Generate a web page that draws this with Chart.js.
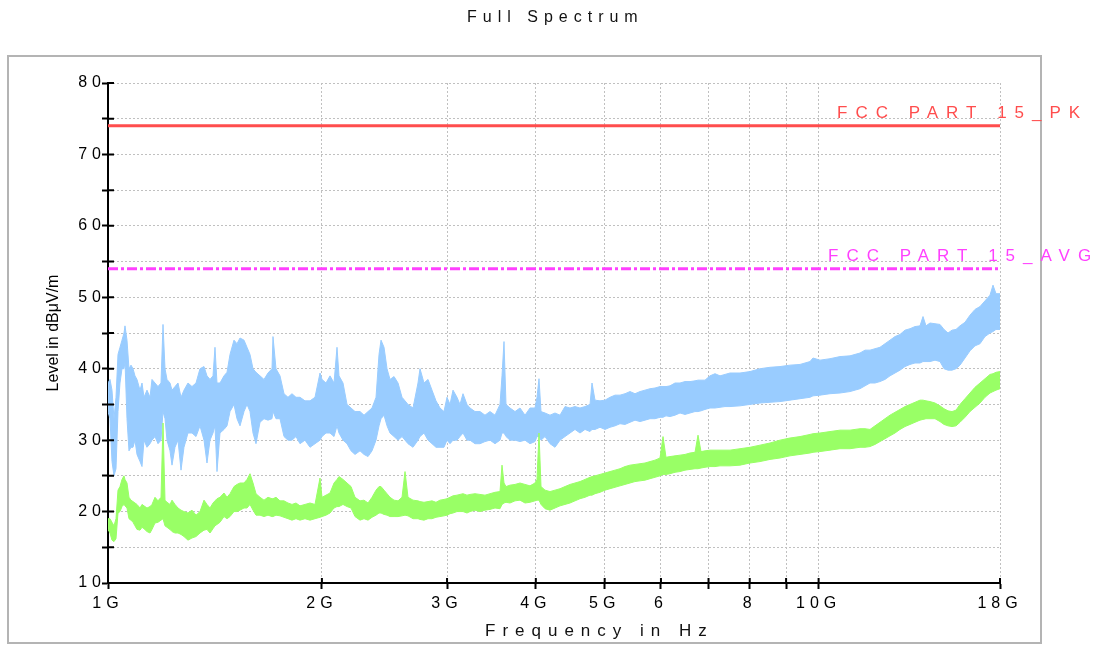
<!DOCTYPE html>
<html lang="en">
<head>
  <meta charset="UTF-8">
  <title>Full Spectrum</title>
  <script src="https://cdn.jsdelivr.net/npm/chart.js"></script>
  <style>
    body { margin: 0; background: #fff; }
    canvas { display: block; }
  </style>
</head>
<body>
  <canvas id="spectrumChart" width="1096" height="646"></canvas>

  <script>
    const FONT = '"Liberation Sans", Arial, sans-serif';

    // Frequency points in GHz (log axis, 1G..18G)
    const freqGHz = [
      1.000, 1.0065, 1.0130, 1.0196, 1.0263, 1.0329, 1.0396, 1.0464, 1.0532, 1.0566,
      1.0635, 1.0704, 1.0774, 1.0844, 1.0914, 1.0985, 1.1093, 1.1165, 1.1237, 1.1347,
      1.1458, 1.1532, 1.1645, 1.1759, 1.1874, 1.1951, 1.2029, 1.2107, 1.2225, 1.2305,
      1.2425, 1.2546, 1.2669, 1.2792, 1.2959, 1.3128, 1.3300, 1.3473, 1.3649, 1.3782,
      1.3917, 1.4053, 1.4144, 1.4236, 1.4375, 1.4563, 1.4705, 1.4849, 1.5042, 1.5189,
      1.5338, 1.5538, 1.5690, 1.5843, 1.5998, 1.6154, 1.6365, 1.6578, 1.6794, 1.7013,
      1.7068, 1.7235, 1.7460, 1.7688, 1.7918, 1.8152, 1.8389, 1.8629, 1.8933, 1.9243,
      1.9557, 1.9877, 2.0006, 2.0267, 2.0532, 2.0800, 2.1003, 2.1139, 2.1415, 2.1695,
      2.1978, 2.2265, 2.2629, 2.2924, 2.3223, 2.3526, 2.3833, 2.4066, 2.4222, 2.4459,
      2.4698, 2.4939, 2.5265, 2.5594, 2.5928, 2.6181, 2.6435, 2.6867, 2.7305, 2.7483,
      2.7842, 2.8205, 2.8573, 2.8945, 2.9323, 2.9705, 2.9996, 3.0289, 3.0585, 3.0984,
      3.1286, 3.1592, 3.2004, 3.2317, 3.2845, 3.3381, 3.3926, 3.4480, 3.5044, 3.5616,
      3.5848, 3.6081, 3.6316, 3.6790, 3.7391, 3.8001, 3.8622, 3.9253, 3.9894, 4.0154,
      4.0415, 4.0678, 4.1209, 4.1882, 4.2566, 4.3261, 4.3968, 4.4686, 4.5416, 4.6157,
      4.6911, 4.7677, 4.7987, 4.8456, 4.9247, 5.0052, 5.0869, 5.1700, 5.2544, 5.3402,
      5.4275, 5.5161, 5.6062, 5.6978, 5.7909, 5.8855, 5.9816, 6.0400, 6.0990, 6.1786,
      6.2795, 6.3821, 6.4863, 6.5922, 6.6999, 6.7654, 6.8314, 6.9206, 7.0336, 7.1485,
      7.2652, 7.3839, 7.5045, 7.7516, 8.0069, 8.2706, 8.5430, 8.8244, 9.1150, 9.4151,
      9.7252, 9.8202, 10.0455, 10.3763, 10.7181, 11.0710, 11.4357, 11.6225, 11.8123, 12.0052,
      12.2013, 12.4006, 12.6031, 12.8090, 13.0182, 13.2308, 13.4469, 13.6665, 13.8897, 14.0254,
      14.1624, 14.3472, 14.5815, 14.8196, 15.0130, 15.2089, 15.4074, 15.6084, 15.8120, 16.0703,
      16.3328, 16.5995, 16.8706, 17.1462, 17.4262, 17.5965, 17.7684, 18.0
    ];

    // Peak trace (blue): upper and lower edge of the noise band, dBuV/m
    const peakHi = [
      38, 38.5, 37, 33, 36, 42, 43, 44, 45, 46,
      44, 40, 40.5, 40, 39, 38.5, 37, 38, 36, 37,
      36, 38.5, 38, 37.5, 38, 46.2, 40, 38.5, 38, 37,
      37.5, 38, 36, 37, 38, 37.5, 38, 40, 40.3, 39,
      38.5, 39, 43, 38, 38, 39, 39.5, 42, 44, 43.5,
      44.3, 44, 43, 42, 40, 39.5, 39, 38.5, 39.4, 40,
      44.5, 40, 39, 36.5, 36, 36.5, 36, 36, 35.5, 35.5,
      36, 39.4, 38.5, 38, 39, 38, 43, 39, 38, 35,
      34.5, 34, 34, 33.5, 34, 34.5, 36, 42, 44, 43,
      40, 38.5, 38.9, 38, 36, 35.5, 35, 34.5, 38, 40,
      38, 38.5, 37, 35.5, 34.5, 34, 36, 35, 37, 36,
      35, 36.5, 35, 34.5, 34, 34, 33.5, 34, 33.5, 35,
      39, 43.8, 35, 34.5, 34, 34.5, 33.5, 34.5, 34.5, 36,
      38.6, 34, 33.8, 33.5, 33.8, 33.5, 34.7, 34.5, 34.7, 34.5,
      34.7, 35, 38, 35.6, 35.5, 35.6, 36, 36.3, 36.3, 36.5,
      36.8, 36.5, 36.8, 37, 37.2, 37.3, 37.5, 37.5, 37.5, 37.6,
      38, 38, 38.2, 38.2, 38.3, 38.4, 38.4, 38.4, 39, 39.3,
      39, 39.2, 39.4, 39.4, 39.6, 40, 40.2, 40.3, 40.5, 40.6,
      41, 41.5, 41.2, 41.4, 41.7, 41.8, 42.2, 42.6, 42.6, 42.8,
      43, 43.5, 44, 44.5, 44.8, 45.4, 45.6, 45.9, 46, 47.3,
      46, 46.4, 46.3, 46.2, 45.5, 45, 45.4, 45.5, 46, 46.5,
      47.5, 48.3, 48.7, 49.5, 50.3, 51.7, 50.5, 50.5
    ];
    const peakLo = [
      34, 33, 27, 25, 26, 34, 38, 40, 40, 41,
      33, 28.5, 29, 29, 30, 28, 27, 26.3, 30, 29,
      29.5, 30, 30.5, 29.5, 30, 34, 33, 30, 28.5, 26.5,
      29, 30, 25.8, 29, 31, 31, 30.5, 32, 30, 26.8,
      30, 31, 32, 25.6, 31, 31.5, 32, 34, 35, 33,
      32, 34, 35, 34, 31, 29.5, 32.5, 33, 32.8, 33,
      34, 33, 33, 30.5, 30, 30, 30.5, 29.5, 30, 29,
      29.5, 30, 30.5, 31, 31, 30.5, 32, 31, 30, 29.5,
      28.5, 28, 28.5, 28, 27.7, 28.5, 30, 32, 33, 33.5,
      32, 31, 30.5, 30, 30.5, 30, 29.5, 29, 30, 30.5,
      31, 30, 29.5, 29, 29, 29, 30, 29.5, 30, 30,
      30.5, 31, 30, 30, 29.5, 29.5, 29.8, 30, 29.5, 30,
      31, 31, 30.5, 30, 30, 29.8, 30, 29.5, 29.8, 30.5,
      30.5, 30, 30.5, 29.5, 29, 30, 30.5, 31, 31.5, 31,
      31.5, 31.2, 31.5, 31.5, 31.8, 31.5, 31.8, 32, 32.3, 32.2,
      32.5, 32.8, 32.6, 32.8, 33, 33, 33.2, 33.2, 33.4, 33.3,
      33.5, 33.8, 33.6, 33.8, 34, 34, 34.1, 34.3, 34.5, 34.5,
      34.6, 34.7, 34.7, 34.8, 35, 35.2, 35.3, 35.4, 35.6, 35.8,
      36, 36.2, 36.3, 36.5, 36.6, 36.8, 37.2, 37.6, 38, 38,
      38.2, 38.5, 39, 39.4, 39.8, 40.3, 40.6, 40.8, 40.8, 41,
      41, 41, 41.2, 41, 40, 39.8, 39.8, 40, 40.5, 41.5,
      42.5, 43.2, 43.5, 44.5, 45, 45.2, 45.5, 45.5
    ];

    // Average trace (green): upper and lower edge of the noise band, dBuV/m
    const avgHi = [
      19, 19, 18.5, 18, 19, 23, 23.5, 24.5, 25, 24.5,
      24, 22, 21.6, 21.4, 21.2, 21, 20.5, 21, 20.8, 20.5,
      20.7, 21, 22, 21.5, 22, 32.4, 21.6, 21.3, 21, 21.6,
      21, 20.5, 20.2, 20, 19.8, 20.2, 19.5, 20, 21.6, 21,
      20.5, 21.2, 21.5, 21.8, 22, 22.6, 22, 22.5, 23.5, 23.8,
      24, 24, 24.5, 25.3, 24, 22.5, 22, 21.6, 22, 21.8,
      21.8, 22, 21.5, 21.5, 21.2, 21, 21.2, 20.8, 21, 21.2,
      21, 24.7, 22, 22.3, 22.6, 24, 24.5, 24.9, 24.5, 24,
      23.5, 22, 21.5, 21.6, 21.2, 22, 23, 23.5, 23.5, 23,
      22.5, 22, 21.6, 21.5, 22, 25.6, 22, 21.6, 21.5, 21.4,
      21.3, 21.4, 21.5, 21.3, 21.6, 21.7, 21.8, 22, 22.2, 22.3,
      22.4, 22.5, 22.3, 22.4, 22.5, 22.4, 22.3, 22.5, 22.7, 22.8,
      26.5, 24, 23.5, 23.7, 23.8, 24, 23.8, 23.6, 24, 24.5,
      31, 23.5, 23, 22.8, 23, 23.2, 23.5, 23.8, 24, 24.2,
      24.5, 24.8, 24.9, 25, 25.2, 25.4, 25.6, 25.8, 26, 26.3,
      26.5, 26.6, 26.7, 26.8, 27, 27.2, 27.5, 30.5, 27.6, 27.7,
      27.8, 27.9, 28, 28.2, 28.3, 30.7, 28.4, 28.5, 28.6, 28.6,
      28.6, 28.6, 28.6, 28.8, 29, 29.3, 29.6, 30, 30.3, 30.5,
      30.8, 30.9, 31, 31.2, 31.4, 31.4, 31.6, 31.6, 31.5, 32,
      32.5, 33, 33.5, 33.9, 34.3, 34.7, 35, 35.3, 35.6, 35.6,
      35.5, 35.4, 35.2, 34.8, 34.4, 34.1, 34, 34.2, 35, 35.8,
      36.6, 37.4, 38, 38.6, 39.2, 39.3, 39.5, 39.6
    ];
    const avgLo = [
      17.5, 17, 16, 15.8, 16.2, 19.8, 20, 20.7, 21, 20.8,
      20.5, 19, 18.8, 18.5, 18, 17.5, 17.4, 17.8, 17.6, 17.2,
      17, 17.5, 18.4, 18.5, 18.8, 19, 18, 17.8, 17.5, 17.2,
      17, 17, 16.8, 16.5, 16, 16.3, 16.5, 17, 17.4, 17.5,
      17, 17.6, 18, 18.2, 18.5, 19.3, 19, 19.3, 20, 20,
      20.2, 20.5, 20.5, 21, 20.2, 19.5, 19.5, 19.3, 19.5, 19.3,
      19.3, 19.5, 19.4, 19.2, 19, 18.8, 19, 18.8, 19, 18.8,
      19, 19.2, 19.3, 19.5, 19.8, 20.5, 20.7, 20.7, 21, 20.7,
      20.5, 19.3, 18.8, 19, 18.8, 19.2, 19.5, 19.8, 19.8, 19.6,
      19.5, 19.3, 19.3, 19.3, 19.4, 19.5, 19.4, 19, 19, 18.9,
      18.8, 19, 19, 19.2, 19.3, 19.4, 19.5, 19.7, 19.8, 20,
      20, 20, 19.8, 20, 20.2, 20, 20.2, 20.3, 20.5, 20.4,
      21, 21.2, 21.3, 21.2, 21.5, 21.6, 21.2, 21.3, 21.5, 21.6,
      21.6, 21, 20.4, 20.2, 20.5, 20.8, 21, 21.2, 21.5, 21.8,
      22, 22.3, 22.3, 22.5, 22.7, 23, 23.2, 23.4, 23.6, 23.8,
      24, 24.2, 24.3, 24.4, 24.6, 24.8, 25, 25.2, 25.2, 25.3,
      25.5, 25.6, 25.8, 25.9, 26, 26, 26.1, 26.2, 26.3, 26.3,
      26.4, 26.4, 26.4, 26.5, 26.8, 27, 27.3, 27.5, 27.8, 28,
      28.2, 28.3, 28.4, 28.6, 28.8, 28.8, 29, 29, 29.1, 29.4,
      29.8, 30.2, 30.6, 31, 31.5, 31.9, 32.2, 32.5, 32.8, 32.9,
      33, 33, 33, 32.6, 32.2, 32, 31.9, 32, 32.5, 33.2,
      34, 34.6, 35.2, 36, 36.6, 36.8, 37, 37.2
    ];

    // Limit lines
    const limitFreq = [1, 18];
    const pkLimit = [74, 74];
    const avgLimit = [54, 54];

    // Axis ticks
    const xTickValues = [1, 2, 3, 4, 5, 6, 7, 8, 9, 10, 18];
    const xTickLabels = ['1G', '2G', '3G', '4G', '5G', '6', '', '8', '', '10G', '18G'];
    const yTickValues = [10, 15, 20, 25, 30, 35, 40, 45, 50, 55, 60, 65, 70, 75, 80];

    const blue = 'rgb(153, 204, 255)';
    const green = 'rgb(153, 255, 102)';
    const red = 'rgb(255, 77, 77)';
    const magenta = 'rgb(255, 64, 255)';

    const toPoints = (xs, ys) => xs.map((x, i) => ({ x: x, y: ys[i] }));

    // wide letter spacing like the original plot software
    function spacedText(ctx, text, x, y, size, spacing, color) {
      ctx.save();
      ctx.font = size + 'px ' + FONT;
      ctx.letterSpacing = spacing + 'px';
      ctx.fillStyle = color;
      ctx.textAlign = 'left';
      ctx.textBaseline = 'middle';
      ctx.fillText(text, x, y);
      ctx.restore();
    }

    const decor = {
      id: 'decor',
      beforeDraw(chart) {
        const ctx = chart.ctx;
        // outer frame
        ctx.save();
        ctx.strokeStyle = '#b4b4b4';
        ctx.lineWidth = 2;
        ctx.strokeRect(8, 56, 1033, 587);
        ctx.restore();
        // spaced tick labels
        [chart.scales.x, chart.scales.y].forEach(s => {
          if (s._spaced) return;
          const drawLabels = s.drawLabels;
          s.drawLabels = function (area) {
            this.ctx.save();
            this.ctx.letterSpacing = '5px';
            drawLabels.call(this, area);
            this.ctx.restore();
          };
          s._spaced = true;
        });
      },
      afterDraw(chart) {
        const { ctx, scales: { x, y } } = chart;
        // inner half of the tick marks
        ctx.save();
        ctx.strokeStyle = '#000';
        ctx.lineWidth = 2;
        ctx.beginPath();
        y.ticks.forEach(t => {
          const py = y.getPixelForValue(t.value);
          ctx.moveTo(x.left, py);
          ctx.lineTo(x.left + 6, py);
        });
        x.ticks.forEach(t => {
          const px = x.getPixelForValue(t.value);
          ctx.moveTo(px, y.bottom);
          ctx.lineTo(px, y.bottom - 5);
        });
        ctx.stroke();
        ctx.restore();

        spacedText(ctx, 'Full Spectrum', 467, 18, 16, 6, '#111');
        spacedText(ctx, 'Frequency in Hz', 485, 631, 17, 7, '#111');
        spacedText(ctx, 'FCC PART 15_PK', 837, y.getPixelForValue(pkLimit[0]) - 13, 17, 8, red);
        spacedText(ctx, 'FCC PART 15_AVG', 828, y.getPixelForValue(avgLimit[0]) - 12, 17, 8, magenta);
      }
    };

    const ctx = document.getElementById('spectrumChart').getContext('2d');
    const chart = new Chart(ctx, {
      type: 'line',
      data: {
        datasets: [
          {
            label: 'FCC PART 15_PK',
            data: toPoints(limitFreq, pkLimit),
            borderColor: red,
            borderWidth: 3,
            pointRadius: 0,
            fill: false
          },
          {
            label: 'FCC PART 15_AVG',
            data: toPoints(limitFreq, avgLimit),
            borderColor: magenta,
            borderWidth: 3,
            borderDash: [10, 3, 3, 3],
            pointRadius: 0,
            fill: false
          },
          {
            label: 'Average max',
            data: toPoints(freqGHz, avgHi),
            borderColor: green,
            backgroundColor: green,
            borderWidth: 1,
            pointRadius: 0,
            fill: '+1'
          },
          {
            label: 'Average min',
            data: toPoints(freqGHz, avgLo),
            borderColor: green,
            borderWidth: 1,
            pointRadius: 0,
            fill: false
          },
          {
            label: 'Peak max',
            data: toPoints(freqGHz, peakHi),
            borderColor: blue,
            backgroundColor: blue,
            borderWidth: 1,
            pointRadius: 0,
            fill: '+1'
          },
          {
            label: 'Peak min',
            data: toPoints(freqGHz, peakLo),
            borderColor: blue,
            borderWidth: 1,
            pointRadius: 0,
            fill: false
          }
        ]
      },
      options: {
        responsive: false,
        animation: false,
        layout: { padding: { top: 83, right: 96, bottom: 0, left: 0 } },
        elements: { line: { tension: 0 } },
        plugins: {
          legend: { display: false },
          tooltip: { enabled: false },
          title: { display: false }
        },
        scales: {
          x: {
            type: 'logarithmic',
            min: 1,
            max: 18,
            afterFit: s => { s.height = 63; },
            afterBuildTicks: s => { s.ticks = xTickValues.map(v => ({ value: v })); },
            ticks: {
              autoSkip: false,
              maxRotation: 0,
              padding: 5,
              color: '#000',
              font: { family: FONT, size: 16 },
              callback: (v, i) => xTickLabels[i]
            },
            grid: { color: '#c0c0c0', lineWidth: 1, tickLength: 6, tickColor: '#000', tickWidth: 2 },
            border: { color: '#000', width: 2, dash: [2, 2] }
          },
          y: {
            type: 'linear',
            min: 10,
            max: 80,
            afterFit: s => { s.width = 108; },
            afterBuildTicks: s => { s.ticks = yTickValues.map(v => ({ value: v })); },
            ticks: {
              padding: -4,
              color: '#000',
              font: { family: FONT, size: 16 },
              callback: v => (v % 10 === 0 ? String(v) : '')
            },
            grid: { color: '#c0c0c0', lineWidth: 1, tickLength: 6, tickColor: '#000', tickWidth: 2 },
            border: { color: '#000', width: 2, dash: [2, 2] },
            title: {
              display: true,
              text: 'Level in dBμV/m',
              color: '#000',
              font: { family: FONT, size: 16 },
              padding: { top: 44, bottom: 0 }
            }
          }
        }
      },
      plugins: [decor]
    });
  </script>
</body>
</html>
